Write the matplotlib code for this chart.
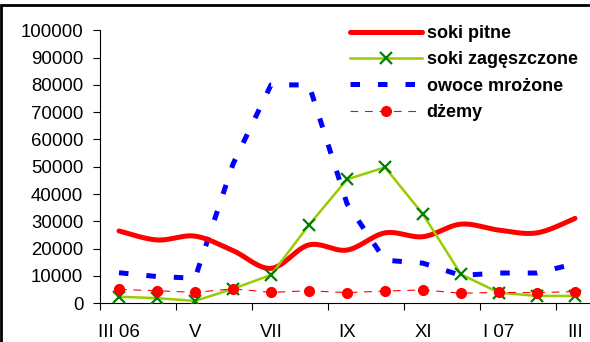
import numpy as np
import matplotlib
matplotlib.use("Agg")
import matplotlib.pyplot as plt
from matplotlib.patches import Rectangle

plt.rcParams['font.family'] = ['Liberation Sans', 'DejaVu Sans']

# ───── Data ─────
months = ['III 06', 'IV', 'V', 'VI', 'VII', 'VIII', 'IX', 'X', 'XI', 'XII', 'I 07', 'II', 'III']
soki_pitne = [26500, 23200, 24600, 19300, 12800, 21400, 19500, 25800, 24400, 29000, 26800, 25800, 31100]
soki_zageszczone = [2400, 1900, 850, 5300, 10400, 28700, 45400, 49800, 32600, 10600, 3900, 2700, 2700]
owoce_mrozone = [11200, 9800, 9200, 51000, 80000, 80000, 36500, 15800, 14700, 10200, 11100, 11100, 14500]
dzemy = [5100, 4600, 4000, 5300, 4000, 4600, 3900, 4500, 4900, 3700, 4000, 3900, 4300]

yticks = list(range(0, 100001, 10000))


# ───── Excel-like smoothed line (cubic Bezier through the points) ─────
def smooth(xs, ys, n=30):
    xs = np.asarray(xs, float)
    ys = np.asarray(ys, float)
    px = np.concatenate([[xs[0]], xs, [xs[-1]]])
    py = np.concatenate([[ys[0]], ys, [ys[-1]]])
    out_x, out_y = [], []
    t = np.linspace(0, 1, n)
    for i in range(1, len(px) - 2):
        p0 = np.array([px[i], py[i]])
        p3 = np.array([px[i + 1], py[i + 1]])
        c1 = p0 + (np.array([px[i + 1], py[i + 1]]) - np.array([px[i - 1], py[i - 1]])) / 6
        c2 = p3 - (np.array([px[i + 2], py[i + 2]]) - p0) / 6
        b = ((1 - t) ** 3)[:, None] * p0 + (3 * (1 - t) ** 2 * t)[:, None] * c1 \
            + (3 * (1 - t) * t ** 2)[:, None] * c2 + (t ** 3)[:, None] * p3
        out_x.extend(b[:, 0])
        out_y.extend(b[:, 1])
    return out_x, out_y


# ───── Figure ─────
W, H = 590, 342
fig = plt.figure(figsize=(W / 100, H / 100), dpi=100)
ax = fig.add_axes([100 / W, (H - 303.3) / H, 494 / W, 273 / H])

x = np.arange(len(months))

sx, sy = smooth(x, soki_pitne)
ax.plot(sx, sy, color='#FF0000', lw=3.6, solid_capstyle='round', label='soki pitne', zorder=3)
ax.plot(x, soki_zageszczone, color='#99CC00', lw=1.8, marker='x', ms=9,
        mec='#008000', mew=1.6, label='soki zagęszczone', zorder=4)
ax.plot(x, owoce_mrozone, color='#0000FF', lw=3.6, dashes=(1.9, 3.6),
        dash_capstyle='butt', label='owoce mrożone', zorder=2)
ax.plot(x, dzemy, color='#FF0000', lw=0.8, dashes=(7, 6), marker='o', ms=7,
        mec='#FF0000', mfc='#FF0000', label='dżemy', zorder=5)

ax.set_xlim(-0.5, len(months) - 0.5)
ax.set_ylim(0, 100000)
ax.set_yticks(yticks)
ax.set_yticklabels([str(v) for v in yticks])

# tick marks between months, labels on every second month
ax.set_xticks(np.arange(-0.5, len(months), 2))
ax.set_xticklabels([])
ax.set_xticks(x[::2], minor=True)
ax.set_xticklabels(months[::2], minor=True)
ax.tick_params(axis='x', which='major', length=5, width=0.8, direction='out')
ax.tick_params(axis='x', which='minor', length=0, pad=15, labelsize=13.4)
ax.tick_params(axis='y', length=5, width=0.8, direction='out', pad=7, labelsize=13.4)

for s in ['top', 'right']:
    ax.spines[s].set_visible(False)
for s in ['left', 'bottom']:
    ax.spines[s].set_linewidth(0.8)
ax.patch.set_alpha(0)

leg = ax.legend(loc='upper left', bbox_to_anchor=(350 / W, 1 - 25 / H),
                bbox_transform=fig.transFigure, frameon=False,
                prop={'weight': 'bold', 'size': 13}, handlelength=4.0,
                handletextpad=0.25, labelspacing=0.52, borderpad=0, borderaxespad=0)

# outer frame (cut by the image edges)
fig.add_artist(Rectangle((1 / W, -0.5), 1.5, (H - 4.7) / H + 0.5,
                         transform=fig.transFigure, fill=False, lw=2,
                         edgecolor='black', clip_on=False))

fig.savefig('out.png', dpi=100)
